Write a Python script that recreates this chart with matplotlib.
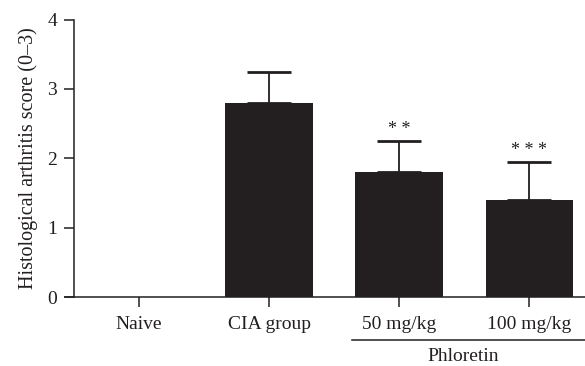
import matplotlib
matplotlib.use('Agg')
import matplotlib.pyplot as plt
import matplotlib.transforms as mtransforms
import numpy as np

groups = ['Naive', 'CIA group', '50 mg/kg', '100 mg/kg']
scores = [0.0, 2.80, 1.80, 1.40]
sem = [0.0, 0.44, 0.45, 0.55]
stars = ['', '', '**', '***']

plt.rcParams['font.family'] = ['Liberation Serif', 'DejaVu Serif']
plt.rcParams['font.size'] = 14

bar_color = '#231f20'

fig = plt.figure(figsize=(5.85, 3.66), dpi=100)
ax = fig.add_axes([65 / 585, 1 - 297 / 366, 1 - 65 / 585, (297 - 19.5) / 366])

x = np.arange(len(groups))
ax.bar(x, scores, width=0.67, color=bar_color, zorder=2)

# upper error bars only (skip naive)
for i in range(1, len(groups)):
    ax.errorbar(x[i], scores[i], yerr=[[0], [sem[i]]], fmt='none',
                ecolor=bar_color, elinewidth=1.3, capsize=16, capthick=2, zorder=1)
    if stars[i]:
        ax.text(x[i], scores[i] + sem[i] + 0.04, ' '.join(stars[i]), ha='center',
                va='bottom', fontsize=13, color=bar_color)

ax.set_xlim(-0.569, 3.43)
ax.set_ylim(0, 4)
ax.spines['left'].set_position(('data', -0.5))
ax.spines['top'].set_visible(False)
ax.spines['right'].set_visible(False)
for s in ['left', 'bottom']:
    ax.spines[s].set_linewidth(1.1)
    ax.spines[s].set_color(bar_color)

ax.set_yticks([0, 1, 2, 3, 4])
ax.set_xticks(x)
ax.set_xticklabels(groups)
ax.tick_params(direction='out', length=7, width=1.1, color=bar_color, labelcolor=bar_color)
ax.tick_params(axis='x', pad=7)
ax.tick_params(axis='y', pad=5)
ax.set_ylabel('Histological arthritis score (0–3)', color=bar_color, labelpad=7,
              fontsize=14.5)

# Phloretin bracket under the two treatment groups
trans = mtransforms.blended_transform_factory(ax.transData, ax.transAxes)
ax.plot([1.64, 3.43], [-0.155, -0.155], transform=trans, color=bar_color,
        lw=1.1, clip_on=False)
ax.text(2.49, -0.215, 'Phloretin', transform=trans, ha='center', va='center',
        color=bar_color)

fig.savefig('out.png', dpi=100)
